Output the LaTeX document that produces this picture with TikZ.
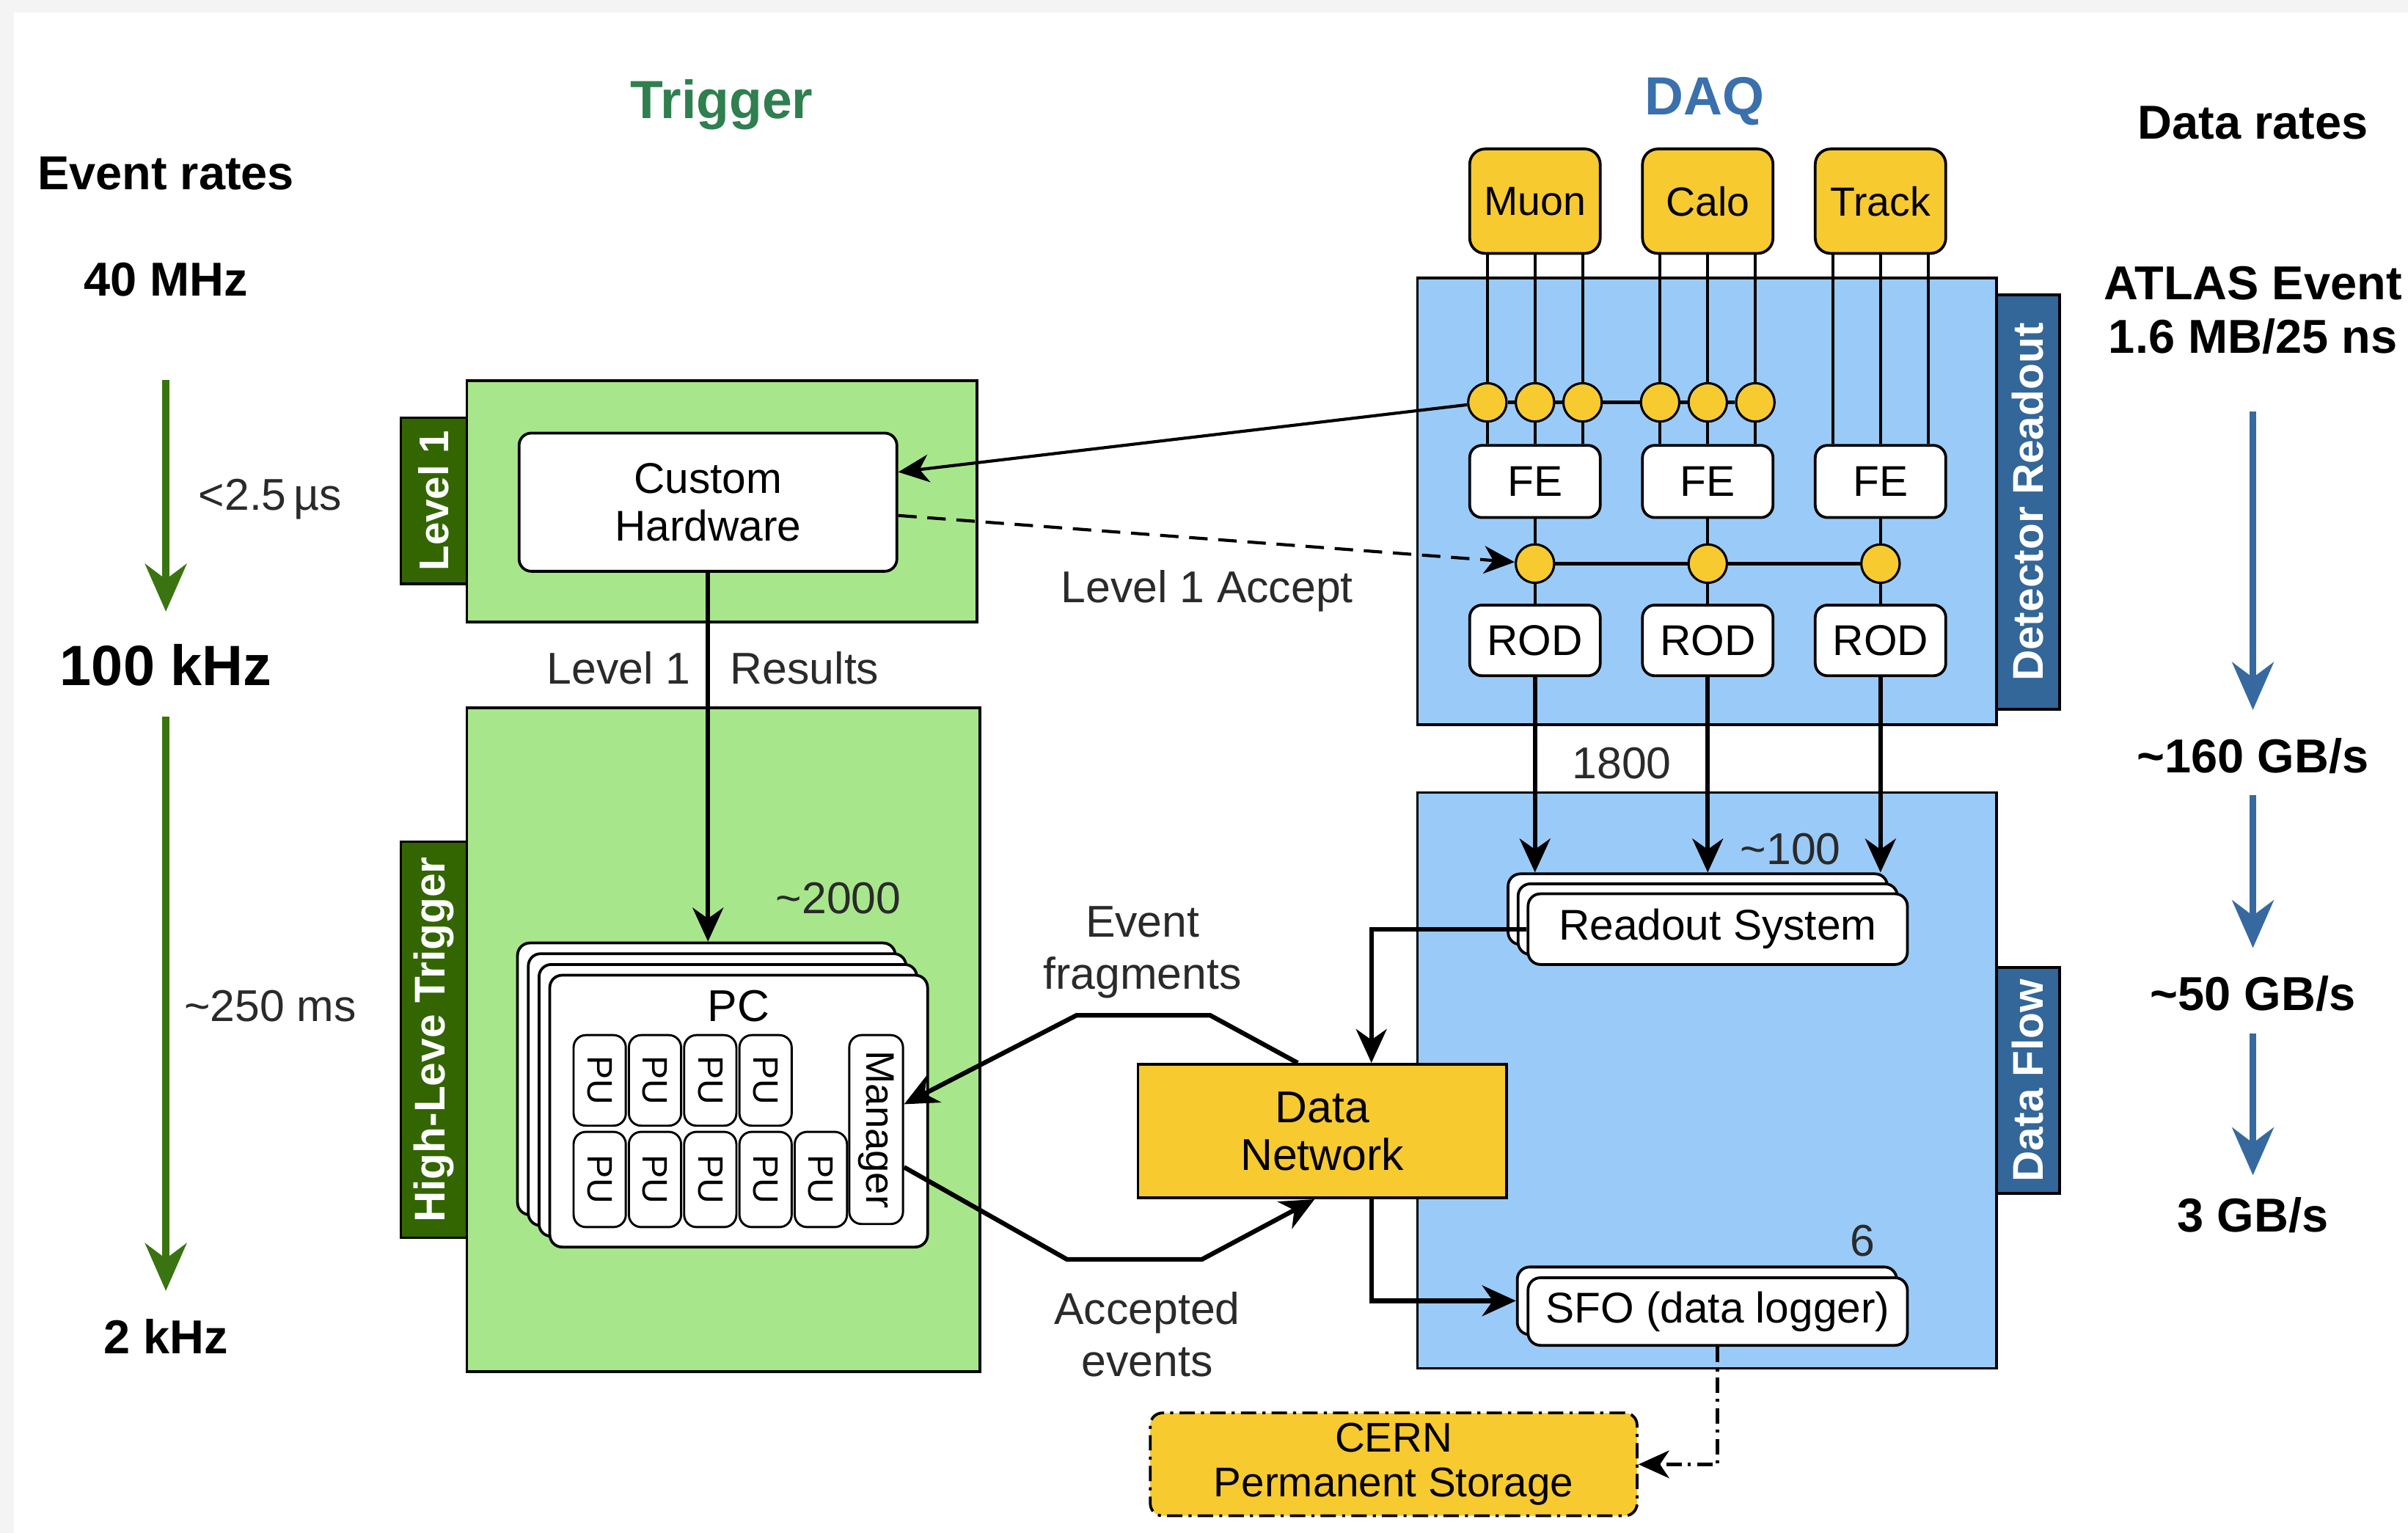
\documentclass[tikz,border=0pt]{standalone}
\usepackage{fontspec}
\setmainfont{Liberation Sans}
\usetikzlibrary{arrows.meta}

\definecolor{lgreen}{HTML}{A8E68C}
\definecolor{dgreen}{HTML}{336600}
\definecolor{agreen}{HTML}{3A7410}
\definecolor{tgreen}{HTML}{2F7F4F}
\definecolor{lblue}{HTML}{9ACBF8}
\definecolor{dblue}{HTML}{336699}
\definecolor{ablue}{HTML}{3669A0}
\definecolor{tblue}{HTML}{3A70AD}
\definecolor{ylw}{HTML}{F7CA30}
\definecolor{bggray}{HTML}{F4F4F4}
\definecolor{txtgray}{HTML}{2A2A2A}

\tikzset{
  area/.style={draw, line width=1.8pt, inner sep=0pt},
  tab/.style={draw, line width=1.8pt, rotate=90, inner sep=0pt, text=white,
    font=\fontsize{28}{30}\selectfont\bfseries},
  wbox/.style={draw, fill=white, rounded corners=8pt, line width=1.8pt,
    inner sep=0pt, align=center, font=\fontsize{28}{31}\selectfont},
  det/.style={wbox, fill=ylw, rounded corners=10pt, minimum width=85pt,
    minimum height=68pt, font=\fontsize{26.5}{30}\selectfont},
  pu/.style={draw, fill=white, rounded corners=8pt, line width=1.4pt, rotate=-90,
    inner sep=0pt, minimum height=34pt, font=\fontsize{23}{25}\selectfont},
  joint/.style={circle, draw, fill=ylw, line width=1.5pt, minimum size=25pt, inner sep=0pt},
  lbl/.style={inner sep=0pt, align=center, text=txtgray, font=\fontsize{29}{34}\selectfont},
  hdr/.style={inner sep=0pt, align=center, font=\fontsize{31}{35}\selectfont\bfseries},
  conn/.style={line width=2pt},
  ptr/.style={-{Stealth[length=20pt,width=18pt,inset=6pt]}},
  flow/.style={line width=3pt, -{Stealth[length=22pt,width=20pt,inset=7pt]}},
  rate/.style={line width=4.5pt, -{Stealth[length=31pt,width=27pt,inset=10pt]}},
  stordash/.style={dash pattern=on 10pt off 4pt on 2pt off 4pt}
}

\begin{document}
\begin{tikzpicture}[x=1pt, y=-1pt]
\useasboundingbox (0,0) rectangle (1568,998);
% Background
\fill[bggray] (0,0) rectangle (1568,998);
\fill[white] (9,8) rectangle (1568,998);

% Column titles
\node[hdr, text=tgreen, font=\fontsize{35}{40}\selectfont\bfseries] (trig) at (470,68) {Trigger};
\node[hdr, text=tblue, font=\fontsize{35}{40}\selectfont\bfseries] (daq) at (1110,66) {DAQ};

% Event rates
\node[hdr] (evr) at (108,113) {Event rates};
\node[hdr] (r40) at (108,182) {40 MHz};
\node[hdr, font=\fontsize{37}{40}\selectfont\bfseries] (r100) at (108,433) {100 kHz};
\node[hdr] (r2) at (108,870) {2 kHz};
\draw[rate, agreen, shorten <=54pt, shorten >=21pt] (r40) -- (r100);
\draw[rate, agreen, shorten <=20pt, shorten >=18pt] (r100) -- (r2);
\node[lbl] (t1) at (176,325) {<2.5\,µs};
\node[lbl] (t2) at (176,655) {\textasciitilde 250 ms};

% Level 1
\node[area, fill=lgreen, minimum width=332pt, minimum height=157pt] (l1) at (470,326.5) {};
\node[tab, fill=dgreen, minimum width=108pt, minimum height=43pt,
  font=\fontsize{27}{30}\selectfont\bfseries] (l1tab) at (282.5,326) {Level 1};
\node[wbox, minimum width=246pt, minimum height=90pt] (hw) at (461,327) {Custom\\Hardware};

% High-level trigger
\node[area, fill=lgreen, minimum width=334pt, minimum height=432pt] (hlt) at (471,677) {};
\node[tab, fill=dgreen, minimum width=258pt, minimum height=43pt] (hlttab) at (282.5,677) {High-Leve Trigger};

% PC farm
\foreach \k in {3,2,1}
  \node[wbox, minimum width=246pt, minimum height=177pt] (pc\k) at (481-7*\k,723.5-7*\k) {};
\node[wbox, minimum width=246pt, minimum height=177pt] (pc) at (481,723.5) {};
\node[lbl, text=black] (pcl) at (481,655) {PC};
\foreach \i in {0,...,3}
  \node[pu, minimum width=59pt] (pua\i) at (390.5+36*\i,703.5) {PU};
\foreach \i in {0,...,4}
  \node[pu, minimum width=62pt] (pub\i) at (390.5+36*\i,768) {PU};
\node[pu, minimum width=123pt, minimum height=35pt, font=\fontsize{26}{28}\selectfont] (mgr) at (570.5,735.5) {Manager};
\node[lbl] (npc) at (546,585) {\textasciitilde 2000};

% Level 1 results
\draw[flow] (hw) -- (hw |- pc3.north);
\node[lbl] (l1ra) at (403,435) {Level 1};
\node[lbl] (l1rb) at (524,435) {Results};

% Detector readout
\node[area, fill=lblue, minimum width=377pt, minimum height=291pt] (drb) at (1111.5,326.5) {};
\node[tab, fill=dblue, minimum width=270pt, minimum height=41pt] (drtab) at (1320.5,327) {Detector Readout};
\foreach \i/\x/\name in {1/999.5/Muon, 2/1112/Calo, 3/1224.5/Track} {
  \node[det] (det\i) at (\x,131) {\name};
  \node[wbox, minimum width=85pt, minimum height=47pt] (fe\i) at (\x,313.5) {FE};
  \node[wbox, minimum width=85pt, minimum height=46pt] (rod\i) at (\x,417) {ROD};
  \node[joint] (d\i) at (\x,367) {};
  \draw[conn] (fe\i) -- (d\i) -- (rod\i);
}
% front-end links, track has no L1 taps
\foreach \i/\x in {1/999.5, 2/1112}
  \foreach \j/\dx in {1/-31, 2/0, 3/31} {
    \node[joint] (c\i\j) at ({\x+\dx},262) {};
    \draw[conn] ([xshift=\dx pt]det\i.south) -- (c\i\j) -- ([xshift=\dx pt]fe\i.north);
  }
\foreach \dx in {-31,0,31}
  \draw[conn] ([xshift=\dx pt]det3.south) -- ([xshift=\dx pt]fe3.north);
\draw[conn] (c11) -- (c12) -- (c13) -- (c21) -- (c22) -- (c23);
\draw[conn] (d1) -- (d2) -- (d3);

% L1 inputs and accept
\draw[conn, ptr] (c11) -- (hw.9);
\draw[conn, ptr, dash pattern=on 12pt off 7pt] (hw.-4) -- (d1);
\node[lbl] (acc) at (786,385) {Level 1 Accept};

% Data flow
\node[area, fill=lblue, minimum width=377pt, minimum height=375pt] (dfb) at (1111.5,703.5) {};
\node[tab, fill=dblue, minimum width=147pt, minimum height=41pt] (dftab) at (1320.5,703.5) {Data Flow};
\foreach \k in {2,1}
  \node[wbox, minimum width=247pt, minimum height=46pt] (ros\k) at (1118.5-6.5*\k,605-6.5*\k) {};
\node[wbox, minimum width=247pt, minimum height=46pt] (ros) at (1118.5,605) {Readout System};
\foreach \i in {1,2,3}
  \draw[flow] (rod\i) -- (rod\i |- ros2.north);
\node[lbl] (nrod) at (1056,497) {1800};
\node[lbl] (nros) at (1166,553) {\textasciitilde 100};

\node[wbox, minimum width=247pt, minimum height=44pt] (sfo1) at (1111.5,847) {};
\node[wbox, minimum width=247pt, minimum height=44pt] (sfo) at (1118.5,854) {SFO (data logger)};
\node[lbl] (nsfo) at (1213,808) {6};

% Data network
\node[draw, fill=ylw, line width=1.8pt, minimum width=240pt, minimum height=87pt, inner sep=0pt,
  align=center, font=\fontsize{29}{31}\selectfont] (dn) at (861,736.5) {Data\\Network};
\draw[flow] (ros.west) -| ([xshift=32pt]dn.north);
\draw[flow] ([xshift=32pt]dn.south) |- (sfo1.west);
\draw[flow] ([xshift=-16pt]dn.north) -- ++(-57,-31) -- ++(-87,0) -- ([yshift=16.5pt]mgr.north);
\draw[flow] ([yshift=-24.5pt]mgr.north) -- ++(106,60) -- ++(88,0) -- ([xshift=-5pt]dn.south);
\node[lbl] (evf) at (744,620) {Event\\fragments};
\node[lbl] (acev) at (747,869) {Accepted\\events};

% Permanent storage
\node[draw, fill=ylw, stordash, rounded corners=8pt, line width=1.8pt, minimum width=317pt,
  minimum height=67pt, inner sep=0pt, align=center, font=\fontsize{27}{29}\selectfont]
  (cern) at (907.5,953.5) {CERN\\Permanent Storage};
\draw[conn, line width=2.4pt, stordash, ptr] (sfo) |- (cern.east);

% Data rates
\node[hdr] (drt) at (1467,80) {Data rates};
\node[hdr] (atl) at (1467,202) {ATLAS Event\\1.6 MB/25 ns};
\node[hdr] (dr160) at (1467,492) {\textasciitilde 160 GB/s};
\node[hdr] (dr50) at (1467,647) {\textasciitilde 50 GB/s};
\node[hdr] (dr3) at (1467,791) {3 GB/s};
\draw[rate, ablue, shorten <=37pt, shorten >=18pt] (atl) -- (dr160);
\draw[rate, ablue, shorten <=14pt, shorten >=18pt] (dr160) -- (dr50);
\draw[rate, ablue, shorten <=14pt, shorten >=14pt] (dr50) -- (dr3);
\end{tikzpicture}
\end{document}
